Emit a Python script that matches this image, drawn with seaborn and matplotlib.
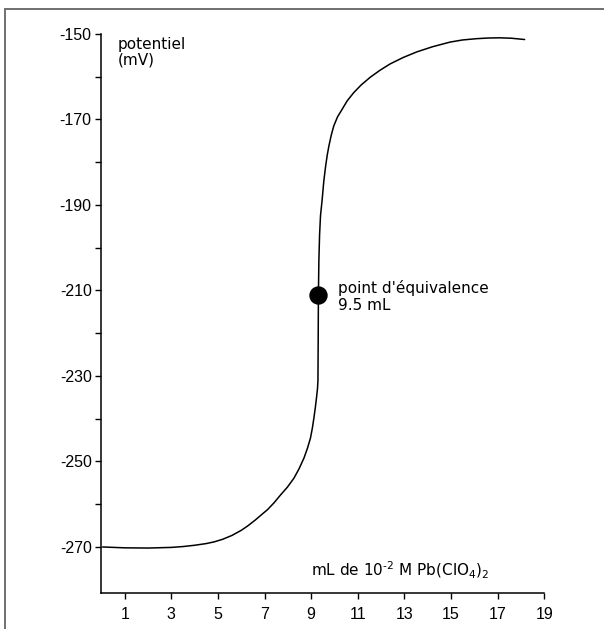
import numpy as np
import pandas as pd
import seaborn as sns
import matplotlib.pyplot as plt
from matplotlib.lines import Line2D

# titration curve (mL added, potential in mV)
volume_ml = [0.05, 1.0, 2.0, 3.0, 3.5, 4.0, 4.5, 4.84, 5.2, 5.6, 6.0, 6.27, 6.6, 6.9,
             7.12, 7.4, 7.69, 7.98, 8.26, 8.48, 8.69, 8.84, 8.97, 9.05, 9.12, 9.18,
             9.23, 9.27, 9.29, 9.30, 9.31, 9.33, 9.36, 9.40, 9.47, 9.54, 9.62, 9.69,
             9.76, 9.86, 9.97, 10.13, 10.33, 10.55, 10.83, 11.15, 11.54, 11.95, 12.39,
             12.95, 13.53, 14.2, 14.96, 15.5, 16.1, 16.6, 17.09, 17.6, 18.16]
potential_mv = [-270.0, -270.2, -270.25, -270.1, -269.9, -269.6, -269.2, -268.8, -268.2,
                -267.3, -266.1, -265.1, -263.7, -262.3, -261.3, -259.7, -257.8, -256.0,
                -253.9, -251.7, -249.2, -246.9, -244.5, -242.2, -239.7, -237.3, -235.0,
                -233.0, -231.1, -222.0, -211.0, -203.0, -197.0, -192.5, -188.8, -184.5,
                -180.9, -178.3, -176.2, -173.7, -171.5, -169.4, -167.6, -165.6, -163.7,
                -161.9, -160.1, -158.5, -157.0, -155.5, -154.2, -153.0, -151.9, -151.4,
                -151.1, -150.95, -150.9, -151.0, -151.3]

equiv_x = [9.30]
equiv_y = [-211.0]

x_ticks = [1, 3, 5, 7, 9, 11, 13, 15, 17, 19]
y_ticks = [-270, -250, -230, -210, -190, -170, -150]
y_minor = [-260, -240, -220, -200, -180, -160]

sns.set_style("ticks")
plt.rcParams["font.family"] = ["Liberation Sans", "DejaVu Sans"]
plt.rcParams["axes.unicode_minus"] = False
plt.rcParams["text.color"] = "black"

df = pd.DataFrame({"volume": volume_ml, "potential": potential_mv})
pt = pd.DataFrame({"volume": equiv_x, "potential": equiv_y})

fig = plt.figure(figsize=(6.04, 6.29), dpi=100)
ax = fig.add_axes([0.168, 0.057, 0.733, 0.889])

sns.lineplot(data=df, x="volume", y="potential", sort=False, color="black",
             linewidth=1.1, ax=ax)
sns.scatterplot(data=pt, x="volume", y="potential", s=150, color="black",
                edgecolor="black", zorder=5, ax=ax)

ax.set_xlim(0, 19)
ax.set_ylim(-280.8, -150)
ax.set_xticks(x_ticks)
ax.set_xticklabels([str(v) for v in x_ticks])
ax.set_yticks(y_ticks)
ax.set_yticklabels([str(v) for v in y_ticks])
ax.set_yticks(y_minor, minor=True)
ax.tick_params(axis="both", which="both", direction="out", length=4, width=1,
               color="black", labelcolor="black", labelsize=11.5)
ax.tick_params(axis="x", pad=6)
ax.tick_params(axis="y", pad=3)
ax.set_xlabel("")
ax.set_ylabel("")
sns.despine(ax=ax)
for s in ["left", "bottom"]:
    ax.spines[s].set_linewidth(1.1)
    ax.spines[s].set_color("black")

# text labels
lab_font = ["DejaVu Sans"]
ax.text(0.7, -150.6, "potentiel\n(mV)", fontsize=11, va="top", ha="left",
        linespacing=1.05, family=lab_font, color="black")
ax.text(10.15, -207.6, "point d'équivalence\n9.5 mL", fontsize=11, va="top",
        ha="left", linespacing=1.15, family=lab_font, color="black")
ax.text(9.0, -275.4,
        r"mL de 10$^{\text{-2}}$ M Pb(ClO$_{\text{4}}$)$_{\text{2}}$",
        fontsize=11, va="center", ha="left", family=lab_font, color="black")

# grey frame around the figure (top and left visible)
fig.add_artist(Line2D([5 / 604, 1.0], [1 - 9 / 629, 1 - 9 / 629],
                      transform=fig.transFigure, color="#707070", linewidth=1.4))
fig.add_artist(Line2D([5 / 604, 5 / 604], [0.0, 1 - 9 / 629],
                      transform=fig.transFigure, color="#707070", linewidth=1.4))

plt.savefig("out.png", dpi=100)
